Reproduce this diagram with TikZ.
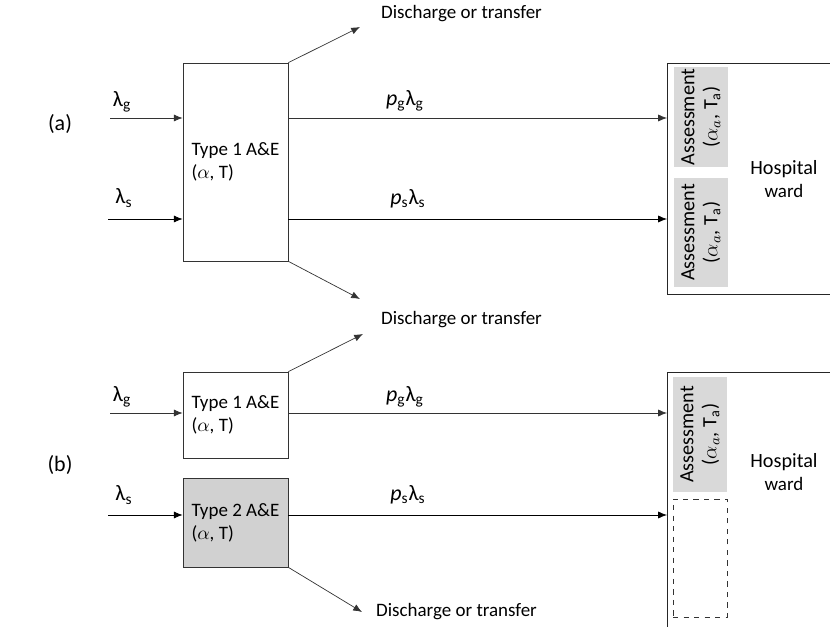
\documentclass[tikz,border=0pt]{standalone}
\usepackage{fontspec}
\setmainfont{Carlito}
\usetikzlibrary{positioning,arrows.meta}

\tikzset{
  flow/.style={-{Latex[length=5pt,width=4pt]}, draw=black!80},
  aebox/.style={draw=black!80, align=left, minimum width=2.1cm, inner sep=2pt},
  assess/.style={fill=black!15, rotate=90, align=center, minimum height=1.08cm, inner sep=1pt, font=\fontsize{11.5}{13}\selectfont},
  ward/.style={draw=black!85, anchor=north west, minimum width=4cm},
  lbl/.style={font=\fontsize{12.5}{14}\selectfont},
}

\begin{document}
\begin{tikzpicture}[font=\fontsize{10.8}{13}\selectfont]
    \useasboundingbox (0,0) rectangle (16.6,-12.54);
    \clip (0,0) rectangle (16.6,-12.54);

    % (a) one A&E for both streams
    \node[lbl] (laba) at (1.2,-2.48) {(a)};
    \node[aebox, minimum height=3.96cm] (t1a) at (4.71,-3.24) {Type 1 A\&E\\($\alpha$, T)};
    \node[ward, minimum height=4.62cm] (warda) at (13.34,-1.26) {};
    \node[assess, minimum width=2.0cm] (asa1) at (14.02,-2.34) {Assessment\\($\alpha_a$, T\textsubscript{a})};
    \node[assess, minimum width=2.18cm] (asa2) at (14.02,-4.65) {Assessment\\($\alpha_a$, T\textsubscript{a})};
    \node[align=center] (hwa) at (15.68,-3.58) {\fontsize{11.5}{13}\selectfont Hospital\\ward};

    \coordinate (ga) at (2.2,-2.36);
    \coordinate (sa) at (2.16,-4.38);
    \node[lbl] (lga) at (2.44,-2.04) {λ\textsubscript{g}};
    \node[lbl] (lsa) at (2.48,-3.96) {λ\textsubscript{s}};
    \draw[flow] (ga) -- (t1a.west |- ga);
    \draw[flow, draw=black] (sa) -- (t1a.west |- sa);
    \draw[flow] (t1a.east |- ga) -- (warda.west |- ga);
    \draw[flow, draw=black] (t1a.east |- sa) -- (warda.west |- sa);
    \node[lbl] (pga) at (8.1,-2.02) {\textit{p}\textsubscript{g}λ\textsubscript{g}};
    \node[lbl] (psa) at (8.16,-3.98) {\textit{p}\textsubscript{s}λ\textsubscript{s}};

    % discharge
    \node[anchor=west] (dis1) at (7.5,-0.28) {Discharge or transfer};
    \node[anchor=west] (dis2) at (7.5,-6.4) {Discharge or transfer};
    \node[anchor=west] (dis3) at (7.4,-12.24) {Discharge or transfer};
    \coordinate (da1) at (7.2,-0.54);
    \coordinate (da2) at (7.2,-5.98);
    \coordinate (db1) at (7.26,-6.68);
    \coordinate (db2) at (7.24,-12.24);
    \draw[flow] (t1a.north east) -- (da1);
    \draw[flow] (t1a.south east) -- (da2);

    % (b) separate A&E for the s stream
    \node[lbl] (labb) at (1.2,-9.3) {(b)};
    \node[aebox, minimum height=1.72cm] (t1b) at (4.71,-8.3) {Type 1 A\&E\\($\alpha$, T)};
    \node[aebox, fill=black!18, minimum height=1.78cm] (t2b) at (4.71,-10.45) {Type 2 A\&E\\($\alpha$, T)};
    \node[ward, minimum height=6cm] (wardb) at (13.34,-7.44) {};
    \node[assess, minimum width=2.3cm] (asb) at (14.0,-8.69) {Assessment\\($\alpha_a$, T\textsubscript{a})};
    \node[draw=black!80, dashed, minimum width=1.08cm, minimum height=2.36cm] (emptyb) at (14.0,-11.16) {};
    \node[align=center] (hwb) at (15.68,-9.44) {\fontsize{11.5}{13}\selectfont Hospital\\ward};

    \coordinate (gb) at (2.2,-8.26);
    \coordinate (sb) at (2.16,-10.3);
    \node[lbl] (lgb) at (2.44,-7.94) {λ\textsubscript{g}};
    \node[lbl] (lsb) at (2.48,-9.9) {λ\textsubscript{s}};
    \draw[flow] (gb) -- (t1b.west |- gb);
    \draw[flow, draw=black] (sb) -- (t2b.west |- sb);
    \draw[flow] (t1b.east |- gb) -- (wardb.west |- gb);
    \draw[flow, draw=black] (t2b.east |- sb) -- (wardb.west |- sb);
    \node[lbl] (pgb) at (8.1,-7.94) {\textit{p}\textsubscript{g}λ\textsubscript{g}};
    \node[lbl] (psb) at (8.16,-9.9) {\textit{p}\textsubscript{s}λ\textsubscript{s}};

    \draw[flow] (t1b.north east) -- (db1);
    \draw[flow] (t2b.south east) -- (db2);
\end{tikzpicture}
\end{document}
